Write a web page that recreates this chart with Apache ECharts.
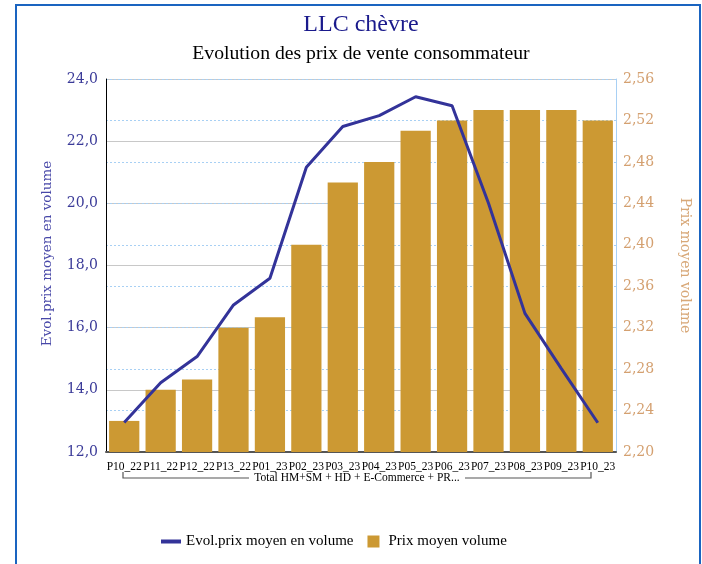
<!DOCTYPE html>
<html>
<head>
<meta charset="utf-8">
<script src="https://cdn.jsdelivr.net/npm/echarts@6/dist/echarts.min.js"></script>
<style>
  html, body { margin: 0; padding: 0; background: #fff; }
  #chart { width: 702px; height: 564px; }
</style>
</head>
<body>
<div id="chart"></div>
<script>
// données
const periodes = ['P10_22', 'P11_22', 'P12_22', 'P13_22', 'P01_23', 'P02_23', 'P03_23',
    'P04_23', 'P05_23', 'P06_23', 'P07_23', 'P08_23', 'P09_23', 'P10_23'];
const evolPrix = [12.95, 14.23, 15.07, 16.73, 17.59, 21.16, 22.47, 22.82, 23.43, 23.14, 20.0, 16.46, 14.68, 12.94];
const prixMoyen = [2.23, 2.26, 2.27, 2.32, 2.33, 2.40, 2.46, 2.48, 2.51, 2.52, 2.53, 2.53, 2.53, 2.52];
const groupeLabel = 'Total HM+SM + HD + E-Commerce + PR...';

const chart = echarts.init(document.getElementById('chart'));

const serif = '"Liberation Serif", "DejaVu Serif", serif';
const wideSerif = '"DejaVu Serif", serif';

const option = {
    animation: false,
    legend: {
        bottom: 10,
        left: 156,
        itemGap: 14,
        itemWidth: 20,
        itemHeight: 12,
        textStyle: { fontFamily: serif, fontSize: 15, color: '#000' },
        data: [
            { name: 'Evol.prix moyen en volume', icon: 'path://M0,0H20V4H0Z' },
            { name: 'Prix moyen volume', icon: 'path://M0,0H12V12H0Z' }
        ]
    },
    grid: { left: 106, right: 86, top: 79, bottom: 112, containLabel: false },
    xAxis: {
        type: 'category',
        data: periodes,
        axisLine: { lineStyle: { color: '#555', width: 2 } },
        axisTick: { show: false },
        axisLabel: {
            interval: 0,
            margin: 9,
            fontFamily: serif,
            fontSize: 11.5,
            color: '#000'
        }
    },
    yAxis: [
        {
            type: 'value',
            min: 12,
            max: 24,
            interval: 2,
            position: 'left',
            name: 'Evol.prix moyen en volume',
            nameLocation: 'middle',
            nameGap: 52,
            nameTextStyle: { fontFamily: wideSerif, fontSize: 13.5, color: '#4848a8', padding: [0, 0, 0, 24] },
            axisLine: { show: true, lineStyle: { color: '#000', width: 1 } },
            axisTick: { show: false },
            axisLabel: {
                fontFamily: wideSerif,
                fontSize: 14,
                color: '#3a3a98',
                margin: 8,
                formatter: v => v.toFixed(1).replace('.', ',')
            },
            splitLine: { lineStyle: { color: '#c8c8c8', width: 1 } }
        },
        {
            type: 'value',
            min: 2.20,
            max: 2.56,
            interval: 0.04,
            position: 'right',
            name: 'Prix moyen volume',
            nameLocation: 'middle',
            nameRotate: -90,
            nameGap: 62,
            nameTextStyle: { fontFamily: wideSerif, fontSize: 14, color: '#d8a878' },
            axisLine: { show: true, lineStyle: { color: '#a8d0f4', width: 1 } },
            axisTick: { show: false },
            axisLabel: {
                fontFamily: wideSerif,
                fontSize: 14,
                color: '#d4a070',
                margin: 7,
                formatter: v => v.toFixed(2).replace('.', ',')
            },
            splitLine: { lineStyle: { color: '#a8d0f4', width: 1, type: [2, 2] } }
        }
    ],
    series: [
        {
            name: 'Prix moyen volume',
            type: 'bar',
            yAxisIndex: 1,
            data: prixMoyen,
            barCategoryGap: '17%',
            itemStyle: { color: '#cc9933' }
        },
        {
            name: 'Evol.prix moyen en volume',
            type: 'line',
            yAxisIndex: 0,
            data: evolPrix,
            symbol: 'none',
            lineStyle: { color: '#333399', width: 3 },
            itemStyle: { color: '#333399' },
            z: 5
        }
    ],
    graphic: [
        {
            type: 'rect',
            shape: { x: 16, y: 5, width: 684, height: 580 },
            style: { fill: 'none', stroke: '#1a64c0', lineWidth: 2 },
            silent: true
        },
        {
            type: 'text',
            x: 361,
            y: 25,
            style: {
                text: 'LLC chèvre',
                fontFamily: serif,
                fontSize: 24,
                fill: '#1a1a8c',
                align: 'center',
                verticalAlign: 'middle'
            }
        },
        {
            type: 'text',
            x: 361,
            y: 54,
            style: {
                text: 'Evolution des prix de vente consommateur',
                fontFamily: serif,
                fontSize: 19.7,
                fill: '#000',
                align: 'center',
                verticalAlign: 'middle'
            }
        },
        {
            type: 'polyline',
            shape: { points: [[123, 472], [123, 478], [249, 478]] },
            style: { fill: 'none', stroke: '#555', lineWidth: 1.2 }
        },
        {
            type: 'polyline',
            shape: { points: [[465, 478], [591, 478], [591, 472]] },
            style: { fill: 'none', stroke: '#555', lineWidth: 1.2 }
        },
        {
            type: 'text',
            x: 357,
            y: 478,
            style: {
                text: groupeLabel,
                fontFamily: serif,
                fontSize: 11.5,
                fill: '#000',
                align: 'center',
                verticalAlign: 'middle'
            }
        }
    ]
};

chart.setOption(option);
</script>
</body>
</html>
